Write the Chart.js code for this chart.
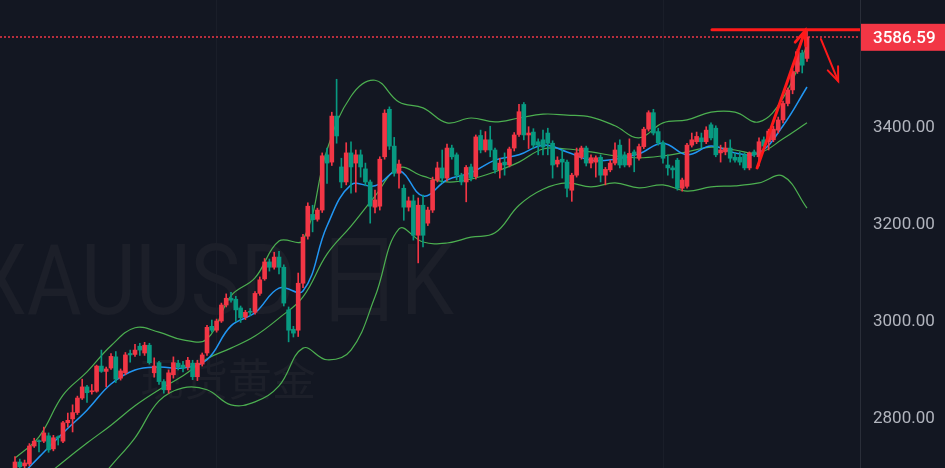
<!DOCTYPE html>
<html>
<head>
<meta charset="utf-8">
<script src="https://cdn.jsdelivr.net/npm/chart.js@4.4.1/dist/chart.umd.min.js"></script>
<style>
  html, body { margin: 0; padding: 0; background: #131722; }
  #caixa { width: 945px; height: 468px; }
</style>
</head>
<body>
<div id="caixa"><canvas id="meuGrafico" width="945" height="468"></canvas></div>
<script>
// velas diarias (XAUUSD), indice 0 = primeira vela visivel
let abertura = [2689,2710,2702,2706,2743,2754,2753,2764,2737,2762,
 2753,2791,2799,2812,2842,2865,2855,2856,2908,2897,
 2904,2927,2883,2894,2934,2932,2949,2935,2951,2894,
 2915,2876,2859,2890,2914,2910,2906,2914,2886,2912,
 2935,2990,2982,3001,3034,3048,3046,3028,3009,3021,
 3019,3058,3088,3123,3112,3133,3112,3024,2984,2982,
 3079,3176,3221,3211,3230,3344,3329,3424,3319,3288,
 3348,3327,3344,3315,3288,3236,3238,3340,3438,3362,
 3306,3275,3236,3249,3178,3240,3203,3230,3292,3317,
 3296,3358,3344,3302,3288,3319,3299,3384,3354,3375,
 3354,3313,3329,3323,3358,3386,3448,3385,3391,3371,
 3375,3389,3368,3325,3335,3329,3271,3302,3339,3358,
 3327,3329,3339,3302,3313,3327,3364,3344,3323,3350,
 3337,3361,3397,3431,3392,3369,3323,3317,3333,3275,
 3279,3364,3371,3379,3371,3406,3399,3348,3350,3358,
 3339,3339,3344,3317,3350,3340,3375,3371,3375,3395,
 3416,3450,3478,3516,3554,3543];

let maxima = [2721,2716,2714,2748,2759,2756,2782,2770,2765,2764,
 2794,2811,2828,2846,2881,2868,2870,2910,2941,2906,
 2934,2938,2902,2936,2941,2953,2955,2957,2955,2925,
 2918,2880,2900,2927,2920,2918,2926,2920,2920,2935,
 2992,3003,3005,3038,3057,3060,3052,3032,3023,3027,
 3062,3092,3130,3129,3143,3145,3117,3030,2990,3100,
 3180,3245,3240,3234,3348,3358,3432,3500,3337,3369,
 3371,3354,3354,3327,3292,3271,3340,3437,3443,3380,
 3333,3282,3257,3261,3255,3261,3236,3298,3329,3354,
 3366,3364,3348,3306,3322,3325,3385,3395,3392,3403,
 3358,3337,3348,3360,3390,3448,3452,3402,3398,3377,
 3395,3399,3373,3340,3354,3333,3306,3358,3362,3362,
 3344,3342,3344,3318,3333,3369,3375,3350,3377,3354,
 3366,3401,3435,3438,3399,3373,3344,3321,3337,3296,
 3368,3389,3391,3389,3402,3410,3404,3364,3370,3375,
 3348,3350,3348,3350,3354,3379,3381,3397,3403,3422,
 3455,3482,3520,3562,3560,3602];

let minima = [2684,2695,2698,2702,2740,2731,2750,2730,2733,2745,
 2750,2782,2772,2808,2839,2833,2850,2854,2895,2865,
 2901,2874,2879,2890,2916,2928,2930,2930,2912,2885,
 2870,2852,2852,2883,2900,2896,2900,2880,2878,2908,
 2930,2978,2978,2998,3030,3040,3000,2998,3004,3012,
 3015,3054,3085,3104,3108,3098,3032,2958,2968,2969,
 3070,3170,3185,3207,3225,3285,3322,3368,3276,3282,
 3265,3267,3298,3280,3203,3224,3230,3335,3355,3300,
 3275,3209,3228,3168,3121,3154,3198,3225,3288,3286,
 3290,3335,3292,3282,3247,3290,3294,3348,3350,3340,
 3306,3296,3302,3319,3352,3382,3375,3357,3357,3344,
 3344,3344,3296,3319,3296,3257,3248,3298,3335,3321,
 3317,3298,3288,3282,3309,3323,3317,3319,3319,3309,
 3333,3357,3393,3385,3364,3327,3302,3296,3271,3269,
 3275,3360,3367,3358,3367,3375,3340,3329,3344,3329,
 3329,3323,3313,3313,3340,3321,3356,3354,3371,3389,
 3410,3445,3470,3512,3513,3537];

let fechamento = [2710,2700,2708,2743,2753,2752,2770,2735,2760,2760,
 2791,2796,2812,2842,2865,2853,2857,2908,2897,2902,
 2928,2881,2898,2931,2931,2941,2941,2951,2915,2908,
 2876,2859,2894,2915,2906,2904,2920,2886,2914,2931,
 2988,2982,3001,3034,3048,3044,3024,3008,3019,3019,
 3058,3086,3123,3112,3133,3112,3038,2982,2976,3079,
 3174,3238,3210,3230,3342,3327,3424,3383,3288,3348,
 3319,3344,3319,3288,3238,3251,3335,3430,3362,3306,
 3325,3236,3249,3178,3240,3178,3230,3292,3317,3296,
 3358,3340,3302,3288,3318,3296,3381,3354,3375,3354,
 3313,3327,3323,3356,3385,3433,3385,3389,3364,3364,
 3360,3368,3323,3333,3329,3275,3302,3348,3358,3327,
 3338,3338,3302,3314,3327,3354,3323,3323,3347,3344,
 3361,3397,3431,3389,3369,3337,3317,3313,3275,3292,
 3364,3375,3382,3371,3395,3379,3344,3354,3358,3337,
 3333,3329,3317,3348,3344,3371,3362,3393,3397,3416,
 3450,3478,3516,3557,3529,3586.59];

// indicadores, a cada 5 velas
let indiceLinhas = [0,5,10,15,20,25,30,35,40,45,50,55,60,65,70,75,80,85,90,95,
 100,105,110,115,120,125,130,135,140,145,150,155,160,165];
let bandaSuperior = [2718,2762,2848,2896,2950,2987,2978,2962,2964,3053,3090,3166,3168,3354,3465,3498,3453,3441,3410,3420,
 3412,3420,3428,3426,3422,3404,3379,3410,3416,3432,3432,3412,3461,3569];
let bandaMeio = [2621,2669,2710,2749,2786,2826,2859,2888,2923,2945,2970,3007,3051,3139,3197,3259,3317,3300,3288,3294,
 3309,3329,3356,3356,3350,3342,3338,3342,3350,3360,3354,3348,3377,3410];
let bandaInferior = [2508,2549,2590,2642,2702,2760,2836,2863,2859,2828,2834,2867,2945,2921,2941,3051,3191,3164,3162,3174,
 3183,3240,3273,3286,3278,3286,3276,3282,3269,3278,3280,3286,3300,3234];
let mediaMovel = [2669,2720,2770,2817,2871,2900,2906,2904,2921,2991,3018,3069,3063,3197,3282,3280,3311,3259,3292,3307,
 3333,3344,3364,3350,3333,3335,3346,3368,3344,3362,3348,3348,3404,3484];

// marcas do eixo de precos e linhas de grade verticais
let ticksPreco = [2800, 3000, 3200, 3400];
let gradeVertical = [42, 135];
let ultimoPreco = 3586.59;

// desenhos feitos a mao no grafico (indice da vela, preco)
let linhaTopo = [[145.2, 3602], [177, 3602]];
let setaAlta = [[154.6, 3317], [164.6, 3600]];
let setaBaixa = [[167.9, 3583], [171.5, 3496]];

var VERMELHO = '#f23645';
var VERDE = '#089981';

function corDaVela(i) {
    return fechamento[i] >= abertura[i] ? VERMELHO : VERDE;
}

function pontosLinha(valores) {
    return indiceLinhas.map(function (x, k) { return { x: x, y: valores[k] }; });
}

function desenharSeta(ctx, x1, y1, x2, y2) {
    ctx.beginPath();
    ctx.moveTo(x1, y1);
    ctx.lineTo(x2, y2);
    ctx.stroke();
    var ang = Math.atan2(y2 - y1, x2 - x1);
    var t = 15;
    ctx.beginPath();
    ctx.moveTo(x2 - t * Math.cos(ang - 0.38), y2 - t * Math.sin(ang - 0.38));
    ctx.lineTo(x2, y2);
    ctx.lineTo(x2 - t * Math.cos(ang + 0.38), y2 - t * Math.sin(ang + 0.38));
    ctx.stroke();
}

// tira o espaco extra que o eixo reserva para os rotulos
function semMargem(s) {
    s.paddingTop = 0;
    s.paddingBottom = 0;
    s.paddingLeft = 0;
    s.paddingRight = 0;
}

var extras = {
    id: 'extras',
    beforeDraw: function (chart) {
        var ctx = chart.ctx;
        ctx.save();
        ctx.fillStyle = '#131722';
        ctx.fillRect(0, 0, chart.width, chart.height);
        ctx.restore();
    },
    beforeDatasetsDraw: function (chart) {
        // marca d'agua
        var ctx = chart.ctx;
        ctx.save();
        ctx.fillStyle = '#1c1f29';
        ctx.textBaseline = 'alphabetic';
        ctx.translate(-26, 314);
        ctx.scale(0.86, 1);
        ctx.font = '98px Roboto, "Noto Sans CJK SC"';
        ctx.fillText('XAUUSD 日K', 0, 0);
        ctx.restore();
        ctx.save();
        ctx.fillStyle = '#1c1f29';
        ctx.font = '44px "Noto Sans CJK SC"';
        ctx.fillText('现货黄金', 140, 396);
        ctx.restore();
    },
    afterDatasetsDraw: function (chart) {
        var ctx = chart.ctx;
        var sx = chart.scales.x, sy = chart.scales.y;
        var area = chart.chartArea;
        ctx.save();
        ctx.beginPath();
        ctx.rect(area.left, area.top, area.right - area.left, area.bottom - area.top);
        ctx.clip();

        // linha do ultimo preco
        var yp = Math.round(sy.getPixelForValue(ultimoPreco));
        ctx.strokeStyle = VERMELHO;
        ctx.lineWidth = 1.6;
        ctx.setLineDash([2, 2]);
        ctx.beginPath();
        ctx.moveTo(area.left, yp);
        ctx.lineTo(area.right, yp);
        ctx.stroke();
        ctx.setLineDash([]);

        // desenhos vermelhos
        ctx.strokeStyle = '#ff1a1a';
        ctx.lineWidth = 3;
        ctx.lineCap = 'round';
        ctx.beginPath();
        ctx.moveTo(sx.getPixelForValue(linhaTopo[0][0]), sy.getPixelForValue(linhaTopo[0][1]));
        ctx.lineTo(sx.getPixelForValue(linhaTopo[1][0]), sy.getPixelForValue(linhaTopo[1][1]));
        ctx.stroke();
        desenharSeta(ctx,
            sx.getPixelForValue(setaAlta[0][0]), sy.getPixelForValue(setaAlta[0][1]),
            sx.getPixelForValue(setaAlta[1][0]), sy.getPixelForValue(setaAlta[1][1]));
        ctx.lineWidth = 2;
        desenharSeta(ctx,
            sx.getPixelForValue(setaBaixa[0][0]), sy.getPixelForValue(setaBaixa[0][1]),
            sx.getPixelForValue(setaBaixa[1][0]), sy.getPixelForValue(setaBaixa[1][1]));
        ctx.restore();
    },
    afterDraw: function (chart) {
        // etiqueta do preco no eixo
        var ctx = chart.ctx;
        var sy = chart.scales.y;
        var y = sy.getPixelForValue(ultimoPreco);
        ctx.save();
        ctx.fillStyle = VERMELHO;
        ctx.fillRect(sy.left + 1, y - 13.5, sy.right - sy.left - 1, 27);
        ctx.fillStyle = '#ffffff';
        ctx.font = '500 17px Roboto';
        ctx.textBaseline = 'middle';
        ctx.textAlign = 'left';
        ctx.fillText(ultimoPreco.toFixed(2), sy.left + 13, y + 1);
        ctx.restore();
    }
};

function desenharGrafico() {
    var canvas = document.getElementById('meuGrafico');
    var ctx = canvas.getContext('2d');
    var cores = fechamento.map(function (c, i) { return corDaVela(i); });

    var grafico = new Chart(ctx, {
        type: 'bar',
        data: {
            datasets: [
                {
                    type: 'bar', label: 'corpo', order: 0,
                    data: abertura.map(function (o, i) { return { x: i, y: [o, fechamento[i]] }; }),
                    backgroundColor: cores, borderWidth: 0,
                    barThickness: 4, minBarLength: 1, grouped: false
                },
                {
                    type: 'bar', label: 'pavio', order: 1,
                    data: minima.map(function (l, i) { return { x: i, y: [l, maxima[i]] }; }),
                    backgroundColor: cores, borderWidth: 0,
                    barThickness: 1, minBarLength: 1, grouped: false
                },
                {
                    type: 'line', label: 'MA', order: 2, data: pontosLinha(mediaMovel),
                    borderColor: '#2196f3', borderWidth: 1.5, pointRadius: 0, tension: 0.4
                },
                {
                    type: 'line', label: 'BB sup', order: 3, data: pontosLinha(bandaSuperior),
                    borderColor: '#4caf50', borderWidth: 1.2, pointRadius: 0, tension: 0.4
                },
                {
                    type: 'line', label: 'BB meio', order: 3, data: pontosLinha(bandaMeio),
                    borderColor: '#4caf50', borderWidth: 1.2, pointRadius: 0, tension: 0.4
                },
                {
                    type: 'line', label: 'BB inf', order: 3, data: pontosLinha(bandaInferior),
                    borderColor: '#4caf50', borderWidth: 1.2, pointRadius: 0, tension: 0.4
                }
            ]
        },
        options: {
            responsive: false,
            maintainAspectRatio: false,
            animation: false,
            devicePixelRatio: 1,
            events: [],
            layout: { padding: 0, autoPadding: false },
            plugins: { legend: { display: false }, tooltip: { enabled: false } },
            scales: {
                x: {
                    type: 'linear', min: -3.125, max: 176.04, offset: false,
                    grid: { color: '#1a1e29', drawTicks: false, offset: false },
                    border: { display: false },
                    ticks: { display: false },
                    afterBuildTicks: function (s) { s.ticks = gradeVertical.map(function (v) { return { value: v }; }); },
                    afterFit: function (s) { s.height = 0; semMargem(s); }
                },
                y: {
                    position: 'right', min: 2697.6, max: 3663.6,
                    grid: { display: false, drawTicks: false },
                    border: { display: true, color: '#2a2e39', width: 1 },
                    ticks: {
                        color: '#b2b5be', padding: 13, includeBounds: false,
                        font: { family: 'Roboto', size: 17 },
                        callback: function (v) { return Number(v).toFixed(2); }
                    },
                    afterBuildTicks: function (s) { s.ticks = ticksPreco.map(function (v) { return { value: v }; }); },
                    afterFit: function (s) { s.width = 85; semMargem(s); }
                }
            }
        },
        plugins: [extras]
    });
}

desenharGrafico();
</script>
</body>
</html>
